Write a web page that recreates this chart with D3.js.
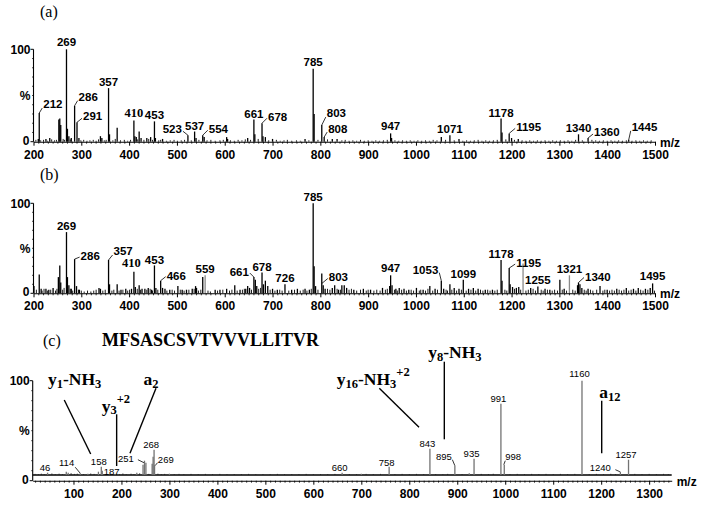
<!DOCTYPE html>
<html>
<head>
<meta charset="utf-8">
<script src="https://cdn.jsdelivr.net/npm/d3@7"></script>
<style>
  html, body { margin: 0; padding: 0; background: #fff; }
  svg { display: block; }
</style>
</head>
<body>
<script>
// ======================= DATA =======================
// tick labels
const xTicksAB = [200, 300, 400, 500, 600, 700, 800, 900, 1000, 1100, 1200, 1300, 1400, 1500];
const xTicksC  = [100, 200, 300, 400, 500, 600, 700, 800, 900, 1000, 1100, 1200, 1300];
const yTickLabels = ["100", "%", "0"];

// panel (a): [m/z, relative intensity %]
const peaksA = [[210,3],[212,31],[226,3],[234,4],[253,24],[255,25],[257,18],[269,100],[271,14],[274,6],[279,4],
  [286,39],[291,21],[295,4],[340,6],[343,4],[357,58],[359,8],[375,15],[410,23],[412,6],[415,5],[421,11],[425,4],
  [437,4],[445,5],[453,22],[455,4],[470,3],[523,7],[537,11],[540,4],[554,7],[557,5],[604,5],[606,3],[648,4],
  [661,24],[663,8],[678,20],[680,6],[685,5],[700,3],[768,3],[785,79],[787,30],[803,18],[808,5],[825,3],[835,3],
  [947,9],[949,4],[1053,5],[1071,7],[1090,3],[1178,25],[1180,10],[1195,9],[1200,4],[1214,3],[1340,8],[1360,4],[1445,2]];
const noiseA = [[205,2],[215,1.5],[221,2],[229,1],[238,2.5],[244,1.5],[248,2],[262,3],[265,2],[277,2.5],[299,1.5],
  [305,2],[312,1],[318,1.5],[325,2],[331,1],[336,2.5],[348,1.5],[352,2],[366,1.5],[371,3],[382,1.5],[390,2],[397,1],
  [403,2],[418,2.5],[431,2],[441,3],[449,2],[462,1.5],[466,2],[478,1],[486,1.5],[494,2],[501,1],[509,1.5],[516,2],
  [530,1.5],[546,2],[563,1.5],[571,2],[580,1],[590,1.5],[597,2],[612,1.5],[620,1],[628,2],[636,1.5],[643,2.5],
  [654,2],[670,3],[692,1.5],[708,2],[716,1],[724,1.5],[731,2],[740,1],[750,1.5],[758,1],[776,1.5],[795,2],[815,2.5],
  [845,1.5],[852,2],[860,1],[868,1.5],[876,1],[884,2],[892,1],[900,1.5],[908,1],[916,1.5],[924,1],[932,1.5],[940,2],
  [956,1.5],[964,1],[972,1.5],[980,1],[988,1.5],[996,1],[1004,1.5],[1012,1],[1020,1.5],[1028,1],[1036,2],[1044,1.5],
  [1062,2],[1080,1.5],[1098,1],[1106,1.5],[1114,1],[1122,1.5],[1130,2],[1138,1],[1146,1.5],[1154,1],[1162,1.5],
  [1170,2],[1188,2.5],[1206,2],[1222,1.5],[1230,1],[1238,1.5],[1246,1],[1254,1.5],[1262,1],[1270,1.5],[1278,1],
  [1286,1.5],[1294,1],[1302,1.5],[1310,1],[1318,1.5],[1326,1],[1334,2],[1348,1.5],[1368,2],[1376,1.5],[1384,1],
  [1392,1.5],[1400,1],[1408,1.5],[1416,1],[1424,1.5],[1432,1],[1440,1.5],[1452,1],[1460,1.5],[1468,1],[1476,1.5],
  [1484,1],[1492,1.5]];

// panel (b)
const peaksB = [[201,8],[212,21],[216,5],[226,5],[232,4],[241,6],[252,18],[255,31],[257,12],[269,68],[271,18],[274,9],
  [279,5],[286,38],[290,8],[296,4],[337,6],[340,5],[357,37],[359,10],[375,10],[383,4],[393,5],[405,5],[410,24],[413,7],
  [421,9],[427,5],[433,5],[440,6],[447,4],[453,31],[456,6],[466,14],[470,6],[475,5],[485,4],[502,8],[511,4],[520,4],
  [532,5],[539,8],[541,6],[554,18],[559,20],[580,4],[590,4],[604,5],[621,9],[632,4],[644,5],[648,8],[652,6],[661,18],
  [664,15],[667,8],[678,23],[681,10],[685,14],[690,8],[700,5],[710,4],[726,10],[740,4],[752,5],[768,5],[777,4],
  [785,100],[787,30],[790,8],[803,22],[806,9],[810,5],[825,6],[830,9],[838,4],[845,9],[850,9],[855,6],[870,4],[890,5],
  [905,4],[930,6],[945,8],[947,20],[950,9],[958,5],[965,6],[975,5],[985,4],[1001,6],[1015,4],[1029,8],[1040,5],
  [1053,14],[1058,5],[1071,10],[1080,6],[1090,5],[1099,15],[1110,5],[1120,6],[1130,5],[1145,4],[1160,4],[1178,37],
  [1180,14],[1195,28],[1197,10],[1202,7],[1210,6],[1215,7],[1224,33],[1240,6],[1255,7.5],[1270,5],[1280,4],[1301,15],
  [1310,5],[1321,20],[1338,9],[1340,12],[1343,10],[1347,6],[1360,5],[1385,8],[1400,4],[1420,5],[1440,6],[1455,5],
  [1465,6],[1480,5],[1490,6],[1495,11]];
const greyPeaksB = [559, 1224, 1321];
const noiseB = [[206,4],[218,3],[222,5],[229,3],[236,4],[246,3],[249,5],[261,4],[264,6],[277,5],[282,3],[294,4],[300,3],
  [306,2],[313,3],[320,2],[326,3],[331,4],[345,3],[350,4],[364,3],[368,4],[379,3],[387,4],[397,3],[401,4],[417,5],
  [424,4],[437,4],[444,5],[449,3],[460,4],[479,3],[490,4],[495,3],[507,4],[515,3],[525,4],[536,5],[545,3],[550,4],
  [565,3],[570,2],[585,3],[596,4],[610,3],[615,4],[626,3],[637,4],[641,5],[656,4],[671,5],[675,6],[695,4],[705,3],
  [715,4],[720,3],[734,3],[746,4],[758,3],[764,4],[772,3],[781,5],[795,4],[815,5],[820,4],[835,5],[842,4],[860,4],
  [865,5],[876,3],[884,4],[896,3],[900,4],[912,3],[918,4],[925,3],[936,4],[940,5],[955,4],[961,3],[970,4],[980,3],
  [990,4],[995,3],[1007,3],[1010,4],[1020,3],[1025,5],[1035,3],[1045,4],[1063,4],[1066,3],[1075,4],[1085,3],[1095,4],
  [1105,3],[1115,4],[1125,3],[1135,4],[1140,3],[1150,4],[1155,3],[1165,3],[1170,4],[1186,4],[1190,3],[1206,5],
  [1219,4],[1230,3],[1235,4],[1245,5],[1250,3],[1262,4],[1266,3],[1275,4],[1285,3],[1290,4],[1296,3],[1306,4],
  [1315,3],[1328,4],[1333,3],[1352,4],[1356,3],[1365,4],[1370,3],[1378,4],[1391,3],[1395,4],[1405,3],[1410,4],
  [1415,3],[1425,4],[1430,3],[1435,4],[1445,3],[1450,4],[1460,3],[1470,4],[1475,3],[1485,4],[1499,3]];

// panel (c)  (spectrum baseline sits above zero)
const baselineC = 5.7;
const peaksC = [[46,8],[85,9],[89,8],[114,7.5],[130,7],[152,9],[158,14],[160,10],[187,6.5],[232,8],[245,16],[248,20],
  [251,18],[264,17],[266,24],[268,31],[269,15],[300,7],[660,8],[700,7],[758,14],[843,32],[895,15],[925,7.5],[935,22],
  [991,77],[998,16],[1160,100],[1240,9],[1257,21]];
const noiseC = [[20,6.8],[27,6.5],[33,7],[39,6.6],[55,7.2],[62,6.6],[70,7],[77,6.5],[95,7.5],[102,6.8],[108,7],
  [121,6.6],[136,7.2],[143,6.8],[170,6.6],[178,7],[196,6.6],[203,7.2],[210,6.5],[220,7],[226,6.6],[238,7.4],[257,6.8],
  [276,7],[283,6.6],[290,6.8],[310,6.6],[320,6.8],[330,6.5],[345,6.8],[360,6.5],[375,6.8],[390,6.6],[405,6.8],
  [420,6.5],[435,6.7],[450,6.6],[465,6.8],[480,6.5],[495,6.7],[510,6.6],[525,6.8],[540,6.5],[555,6.7],[570,6.6],
  [585,6.8],[600,6.5],[615,6.7],[630,6.6],[645,6.8],[675,6.7],[690,6.5],[710,6.8],[725,6.6],[740,6.8],[770,6.6],
  [785,6.8],[800,6.6],[815,6.8],[830,6.6],[855,6.7],[870,6.5],[880,6.8],[910,6.6],[950,6.8],[965,6.6],[975,6.9],
  [1010,6.6],[1025,6.8],[1040,6.6],[1055,6.8],[1070,6.6],[1085,6.8],[1100,6.6],[1115,6.8],[1130,6.6],[1145,6.8],
  [1175,6.6],[1190,6.8],[1205,6.6],[1220,6.9],[1230,6.7],[1270,6.8],[1285,6.6],[1300,6.8],[1315,6.6],[1330,6.8],
  [1340,6.6]];

const panelTitles = ["(a)", "(b)", "(c)"];
const sequence = "MFSASCSVTVVVLLITVR";
const axisTitle = "m/z";

// fragment-ion annotations of panel (c): text parts, anchor (m/z, %), pointer line (m/z,% -> m/z,%)
const ionsC = [
  { parts: [["y",""],["1","sub"],["-NH",""],["3","sub"]], at: [46.8, 95.7], line: [80.8, 80.7, 135.9, 26.7] },
  { parts: [["y",""],["3","sub"],["+2","sup"]], at: [158.8, 69], line: [190, 66.4, 190, 14.7] },
  { parts: [["a",""],["2","sub"]], at: [246, 95.7], line: [272, 92.4, 217.8, 27.4] },
  { parts: [["y",""],["16","sub"],["-NH",""],["3","sub"],["+2","sup"]], at: [648.7, 95.7], line: [737.5, 92.4, 820.3, 53.4] },
  { parts: [["y",""],["8","sub"],["-NH",""],["3","sub"]], at: [839.6, 122.4], line: [873, 119, 873, 41.4] },
  { parts: [["a",""],["12","sub"]], at: [1196.1, 82.4], line: [1201.1, 80, 1201.1, 27.4] }
];

// ======================= LAYOUT =======================
// peak label placement: [m/z, dx, dy, anchor, leader(x0,y0,x1,y1) relative to peak top]
const labelLayoutA = [
  [212,4,-5,"start",[0,0,3,-5]], [269,0,-3,"middle"], [286,4,-5,"start",[0,0,3,-5]], [291,6,-2,"start",[0,0,5,-4]],
  [357,0,-2,"middle"], [410,0,-3,"middle"], [453,0,-2,"middle"], [523,-6,-2,"end",[0,0,-5,-4]],
  [537,0,-2,"middle"], [554,6,-2.5,"start",[0,0,5,-5]], [661,0,-2,"middle"], [678,6,-2.5,"start",[0,0,5,-5]],
  [785,0,-3,"middle"], [803,5,-8,"start",[0,0,4,-8]], [808,4,-4.5,"start",[0,0,3,-5]], [947,0,-3,"middle"],
  [1071,0,-2.5,"middle"], [1178,0,-2,"middle"], [1195,7,-2,"start",[0,0,6,-5]], [1340,0,-2.5,"middle"],
  [1360,6,-2,"start",[0,0,5,-4]], [1445,3,-9,"start",[0,0,2,-9]]
];
const labelLayoutB = [
  [269,0,-2,"middle"], [286,6,1,"start",[0,0,5,-2]], [357,5,-5,"start",[0,0,4,-5]], [410,-2.5,-5,"middle"],
  [453,0,-1.5,"middle"], [466,6,-1,"start",[0,0,5,-4]], [559,0,-2.5,"middle"], [661,-5,-1,"end",[0,0,-4,-4]],
  [678,0,-2,"middle"], [726,0,-2.5,"middle"], [785,0,-2,"middle"], [803,7,7.5,"start",[0,10,6,5]],
  [947,0,-3.5,"middle"], [1053,-3,-7,"end",[0,0,-2,-8]], [1099,0,-2,"middle"], [1178,0,-2,"middle"],
  [1195,7,-1,"start",[0,0,6,-4]], [1255,0,-2.5,"middle"], [1321,0,-2,"middle"], [1340,6.5,-2,"start",[0,0,5.5,-5]],
  [1495,0,-3,"middle"]
];
const labelLayoutC = [
  [46,-2.5,-1.5,"middle"], [114,-6,-7,"end",[0,0,-5,-6]], [158,-2.5,-2,"middle"], [187,-3.5,0.8,"middle"],
  [251,-12,-1,"end",[-2,0,-8,-3]], [268,-3,-1.5,"middle"], [269,3.3,-3,"start",[0.5,0,3,-3]],
  [660,-2.5,-1.5,"middle"], [758,-2.5,-1,"middle"], [843,-2.5,-1.5,"middle"], [895,-3,-6,"end",[0,0,-2.5,-6]],
  [935,-2.5,-2,"middle"], [991,-2.5,-2,"middle"], [998,1,-5,"start",[-0.5,0,1,-4]], [1160,-2.5,-3.5,"middle"],
  [1240,-9.5,-1,"end",[-0.5,0,-5,-2]], [1257,-2.5,-1.5,"middle"]
];

const SANS = "'Liberation Sans', Arial, Helvetica, sans-serif";
const SERIF = "'Liberation Serif', 'Times New Roman', serif";

const svg = d3.select("body").append("svg").attr("width", 705).attr("height", 517);

// scales
const xAB = d3.scaleLinear().domain([200, 1500]).range([33.5, 655]);
const yA = d3.scaleLinear().domain([0, 100]).range([141.7, 49.3]);
const yB = d3.scaleLinear().domain([0, 100]).range([293.3, 203.3]);
const xC = d3.scaleLinear().domain([15, 1347]).range([32.7, 671.7]);
const yC = d3.scaleLinear().domain([0, 100]).range([480.7, 380.7]);

function drawXAxis(x, y, majors, minorFrom, minorTo) {
  const y0 = y(0);
  const g = svg.append("g").attr("transform", `translate(0,${y0})`)
    .call(d3.axisBottom(x).tickValues(majors).tickSize(4).tickSizeOuter(0).tickPadding(4.5).tickFormat(d3.format("d")));
  g.select(".domain").attr("stroke", "#000").attr("stroke-width", 1.1);
  g.selectAll(".tick line").attr("stroke", "#000");
  g.selectAll(".tick text").attr("font-family", SANS).attr("font-size", 12)
    .attr("font-weight", "bold").attr("fill", "#000");
  const minor = d3.range(minorFrom, minorTo + 0.1, 10).filter(v => !majors.includes(v));
  const gm = svg.append("g").attr("transform", `translate(0,${y0})`)
    .call(d3.axisBottom(x).tickValues(minor).tickSize(2).tickSizeOuter(0).tickFormat(""));
  gm.select(".domain").remove();
  gm.selectAll(".tick line").attr("stroke", "#000").attr("stroke-width", 0.8);
  svg.append("text").attr("x", x.range()[1] + 5).attr("y", y0 + 5)
    .attr("font-family", SANS).attr("font-size", 12).attr("font-weight", "bold").text(axisTitle);
}

function drawYAxis(x0, y) {
  const g = svg.append("g");
  g.append("line").attr("x1", x0).attr("x2", x0).attr("y1", y(0)).attr("y2", y(100)).attr("stroke", "#000").attr("stroke-width", 1.1);
  g.selectAll("line.maj").data([0, 100]).join("line").attr("class", "maj")
    .attr("x1", x0 - 3).attr("x2", x0).attr("y1", d => y(d)).attr("y2", d => y(d)).attr("stroke", "#000");
  g.selectAll("line.min").data(d3.range(10, 100, 10)).join("line").attr("class", "min")
    .attr("x1", x0 - 1.5).attr("x2", x0).attr("y1", d => y(d)).attr("y2", d => y(d)).attr("stroke", "#000").attr("stroke-width", 0.7);
  const ys = [y(100), (y(0) + y(100)) / 2, y(0) - 1.5];
  g.selectAll("text").data(yTickLabels).join("text")
    .attr("x", (d, i) => x0 - (i === 2 ? 4 : 3)).attr("y", (d, i) => ys[i]).attr("dy", "0.36em").attr("text-anchor", "end")
    .attr("font-family", SANS).attr("font-size", 12).attr("font-weight", "bold").text(d => d);
}

function drawPeaks(x, y, peaks, base, color, width, greyList) {
  svg.append("g").selectAll("line").data(peaks).join("line")
    .attr("x1", d => x(d[0])).attr("x2", d => x(d[0]))
    .attr("y1", y(base)).attr("y2", d => y(d[1]))
    .attr("stroke", d => (greyList && greyList.includes(d[0])) ? "#8a8a8a" : color)
    .attr("stroke-width", width);
}

function drawLabels(x, y, peaks, layout, font) {
  const map = new Map(peaks.map(d => [d[0], d[1]]));
  const g = svg.append("g");
  layout.forEach(([mz, dx, dy, anchor, lead]) => {
    const px = x(mz), py = y(map.get(mz));
    if (lead) {
      g.append("line").attr("x1", px + lead[0]).attr("y1", py + lead[1])
        .attr("x2", px + lead[2]).attr("y2", py + lead[3]).attr("stroke", "#000").attr("stroke-width", 0.8);
    }
    const t = g.append("text").attr("x", px + dx).attr("y", py + dy).attr("text-anchor", anchor).text(String(mz));
    if (font.serifFor && font.serifFor.includes(mz)) {
      t.attr("font-family", SERIF).attr("font-size", font.size + 1).attr("font-weight", "bold");
    } else {
      t.attr("font-family", SANS).attr("font-size", font.size).attr("font-weight", font.weight);
    }
  });
}

// ---------- panel (a) ----------
drawPeaks(xAB, yA, noiseA, 0, "#000", 0.9);
drawPeaks(xAB, yA, peaksA, 0, "#000", 1.3);
drawXAxis(xAB, yA, xTicksAB, 200, 1500);
drawYAxis(xAB.range()[0], yA);
drawLabels(xAB, yA, peaksA, labelLayoutA, { size: 11.5, weight: "bold", serifFor: [410] });

// ---------- panel (b) ----------
drawPeaks(xAB, yB, noiseB, 0, "#000", 0.9);
drawPeaks(xAB, yB, peaksB, 0, "#000", 1.3, greyPeaksB);
drawXAxis(xAB, yB, xTicksAB, 200, 1500);
drawYAxis(xAB.range()[0], yB);
drawLabels(xAB, yB, peaksB, labelLayoutB, { size: 11.5, weight: "bold", serifFor: [410] });

// ---------- panel (c) ----------
svg.append("line").attr("x1", xC.range()[0]).attr("x2", xC.range()[1])
  .attr("y1", yC(baselineC)).attr("y2", yC(baselineC)).attr("stroke", "#000").attr("stroke-width", 1.5);
drawPeaks(xC, yC, noiseC, baselineC, "#222", 0.9);
drawPeaks(xC, yC, peaksC, baselineC, "#737373", 1.3);
drawXAxis(xC, yC, xTicksC, 20, 1340);
drawYAxis(xC.range()[0], yC);
drawLabels(xC, yC, peaksC, labelLayoutC, { size: 9.5, weight: "normal" });

// ion annotations
ionsC.forEach(ion => {
  const [a, b, c, d] = ion.line;
  svg.append("line").attr("x1", xC(a)).attr("y1", yC(b)).attr("x2", xC(c)).attr("y2", yC(d))
    .attr("stroke", "#000").attr("stroke-width", 1.4);
  const t = svg.append("text").attr("x", xC(ion.at[0])).attr("y", yC(ion.at[1]))
    .attr("font-family", SERIF).attr("font-weight", "bold").attr("font-size", 17.5);
  let shift = 0;
  ion.parts.forEach(([s, kind]) => {
    const target = kind === "sub" ? 2.5 : kind === "sup" ? -9 : 0;
    t.append("tspan").attr("dy", target - shift)
      .attr("font-size", kind ? 12.5 : 17.5).text(s);
    shift = target;
  });
});

// titles
const titlePos = [[40, 17], [40, 180], [43, 346]];
svg.selectAll("text.ptitle").data(panelTitles).join("text").attr("class", "ptitle")
  .attr("x", (d, i) => titlePos[i][0]).attr("y", (d, i) => titlePos[i][1])
  .attr("font-family", SERIF).attr("font-size", 16).text(d => d);
svg.append("text").attr("x", 102).attr("y", 346)
  .attr("font-family", SERIF).attr("font-weight", "bold").attr("font-size", 18).text(sequence);
</script>
</body>
</html>
